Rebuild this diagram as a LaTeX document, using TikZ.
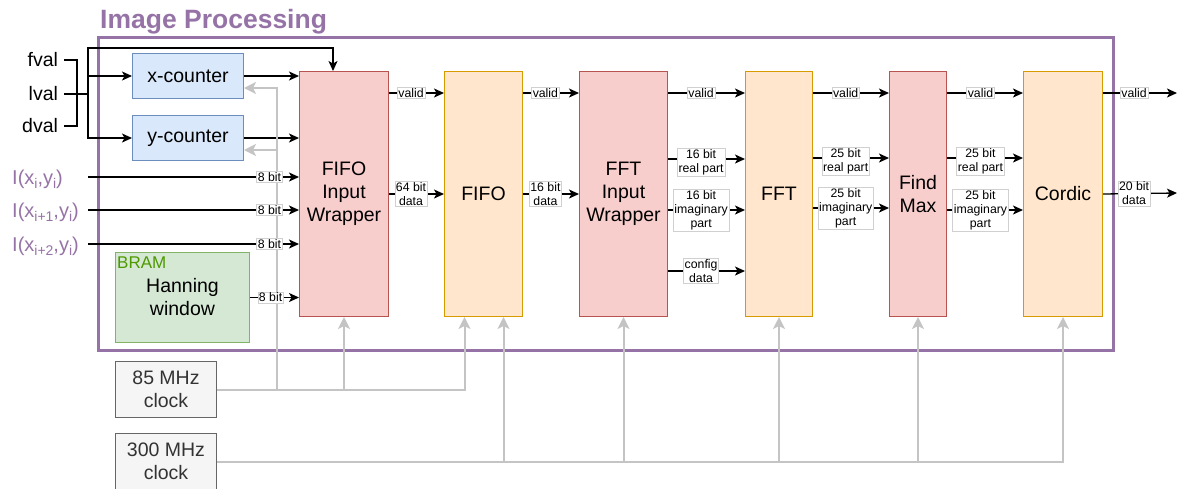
\documentclass[tikz,border=0pt]{standalone}
\usepackage{fontspec}
\setmainfont{Liberation Sans}
\usetikzlibrary{arrows.meta}
\definecolor{purp}{HTML}{9673A6}
\definecolor{redF}{HTML}{F8CECC}
\definecolor{redD}{HTML}{B85450}
\definecolor{orF}{HTML}{FFE6CC}
\definecolor{orD}{HTML}{D79B00}
\definecolor{blF}{HTML}{DAE8FC}
\definecolor{blD}{HTML}{6C8EBF}
\definecolor{grF}{HTML}{D5E8D4}
\definecolor{grD}{HTML}{82B366}
\definecolor{bramT}{HTML}{4D9900}
\definecolor{clkF}{HTML}{F5F5F5}
\definecolor{clkD}{HTML}{666666}
\definecolor{clkT}{HTML}{333333}
\definecolor{clkL}{HTML}{C4C4C4}
\definecolor{lblD}{HTML}{D0D0D0}
\newcommand{\sbs}[1]{\raisebox{-4.5pt}{\fontsize{14}{14}\selectfont #1}}
\tikzset{
  blk/.style={draw, line width=1pt, anchor=north west, inner sep=0pt, align=center,
    font=\fontsize{19.5}{23}\selectfont},
  redblk/.style={blk, fill=redF, draw=redD},
  orblk/.style={blk, fill=orF, draw=orD},
  blblk/.style={blk, fill=blF, draw=blD},
  grblk/.style={blk, fill=grF, draw=grD},
  clkblk/.style={blk, fill=clkF, draw=clkD, text=clkT},
  sig/.style={line width=1.3pt, -{Stealth[length=10pt,width=9pt,inset=2.5pt]}},
  wire/.style={line width=1.3pt},
  lbl/.style={fill=white, draw=lblD, line width=0.5pt, inner sep=1.2pt,
    font=\fontsize{12.3}{14}\selectfont, align=center, text=black},
  clk/.style={line width=2pt, draw=clkL, -{Stealth[length=12pt,width=12pt,inset=3pt]}},
  intext/.style={font=\fontsize{20}{23}\selectfont, text=purp, inner sep=0pt},
  sigtext/.style={font=\fontsize{19.5}{23}\selectfont, inner sep=0pt, outer sep=6pt, anchor=east},
}
\begin{document}
\begin{tikzpicture}[x=1pt,y=-1pt]
\useasboundingbox (0,0) rectangle (1178,488);

% title and frame
\node[anchor=base west, inner sep=0pt, text=purp, font=\fontsize{26.5}{30}\selectfont\bfseries] (title) at (100,28) {Image Processing};
\draw[purp, line width=3pt] (98,37) rectangle (1113,350);

% blocks
\node[blblk, minimum width=111pt, minimum height=45pt] (xc) at (132,53) {x-counter};
\node[blblk, minimum width=111pt, minimum height=45pt] (yc) at (132,115) {y-counter};
\node[redblk, minimum width=89pt, minimum height=245pt] (fiw) at (299,71) {FIFO\\Input\\Wrapper};
\node[orblk, minimum width=78pt, minimum height=245pt] (fifo) at (444,71) {FIFO};
\node[redblk, minimum width=88pt, minimum height=245pt] (fftiw) at (579,71) {FFT\\Input\\Wrapper};
\node[orblk, minimum width=67pt, minimum height=245pt] (fft) at (745,71) {FFT};
\node[redblk, minimum width=57pt, minimum height=245pt] (fm) at (889,71) {Find\\Max};
\node[orblk, minimum width=79pt, minimum height=245pt] (cor) at (1023,71) {Cordic};
\node[grblk, minimum width=134pt, minimum height=90pt] (han) at (115,252) {Hanning\\window};
\node[anchor=north west, inner sep=0pt, text=bramT, font=\fontsize{17}{20}\selectfont] (bram) at (117,257) {BRAM};
\node[clkblk, minimum width=101pt, minimum height=56pt] (c85) at (115,361) {85 MHz\\clock};
\node[clkblk, minimum width=101pt, minimum height=56pt] (c300) at (115,433) {300 MHz\\clock};

% left inputs
\node[sigtext] (fval) at (64,60) {fval};
\node[sigtext] (lval) at (64,94) {lval};
\node[sigtext] (dval) at (64,126) {dval};
\coordinate (bk) at (77,0);
\coordinate (sp) at (88,94);
\coordinate (ftop) at (333,48);
\draw[wire] (fval.east) -- (fval.east -| bk) -- (dval.east -| bk) -- (dval.east);
\draw[wire] (lval.east) -- (sp);
\draw[sig] (sp) |- (ftop) -- (ftop |- fiw.north);
\draw[sig] (sp) |- (xc.west);
\draw[sig] (sp) |- (yc.west);
\draw[sig] (xc.east) -- (xc.east -| fiw.west);
\draw[sig] (yc.east) -- (yc.east -| fiw.west);

\node[intext, anchor=base west] (i1) at (12,184) {I(x\sbs{i},y\sbs{i})};
\node[intext, anchor=base west] (i2) at (12,217) {I(x\sbs{i+1},y\sbs{i})};
\node[intext, anchor=base west] (i3) at (12,251) {I(x\sbs{i+2},y\sbs{i})};
\coordinate (i1s) at (88,177);
\coordinate (i2s) at (88,210);
\coordinate (i3s) at (88,244);

% clock lines
\coordinate (gx) at (277,0);
\coordinate (ff85) at ([xshift=-19pt]fifo.south);
\coordinate (ff300) at ([xshift=20pt]fifo.south);
\draw[clk] (c85.east) -| (ff85);
\draw[clk] (c85.east -| fiw.south) -- (fiw.south);
\draw[clk] (c85.east -| gx) |- ([yshift=-12pt]xc.east);
\draw[clk] ([yshift=-12pt]yc.east -| gx) -- ([yshift=-12pt]yc.east);
\draw[clk] (c300.east) -| (cor.south);
\draw[clk] (c300.east -| ff300) -- (ff300);
\draw[clk] (c300.east -| fftiw.south) -- (fftiw.south);
\draw[clk] (c300.east -| fft.south) -- (fft.south);
\draw[clk] (c300.east -| fm.south) -- (fm.south);

\draw[sig] (i1s) -- (i1s -| fiw.west) node[lbl, pos=0.86] {8 bit};
\draw[sig] (i2s) -- (i2s -| fiw.west) node[lbl, pos=0.86] {8 bit};
\draw[sig] (i3s) -- (i3s -| fiw.west) node[lbl, pos=0.86] {8 bit};
\draw[sig] (han.east) -- (han.east -| fiw.west) node[lbl, pos=0.42] {8 bit};

% pipeline rows
\coordinate (rv) at (0,93);
\coordinate (rre) at (0,159);
\coordinate (rim) at (0,210);
\coordinate (rcf) at (0,271);
\coordinate (rre2) at (0,158);
\coordinate (rim2) at (0,208);
\coordinate (outv) at (1177,93);
\coordinate (outd) at (1177,193);

\draw[sig] (fiw.east |- rv) -- (fifo.west |- rv) node[lbl, pos=0.4] {valid};
\draw[sig] (fiw.east) -- (fifo.west) node[lbl, pos=0.4] {64 bit\\data};
\draw[sig] (fifo.east |- rv) -- (fftiw.west |- rv) node[lbl, pos=0.4] {valid};
\draw[sig] (fifo.east) -- (fftiw.west) node[lbl, pos=0.4] {16 bit\\data};

\draw[sig] (fftiw.east |- rv) -- (fft.west |- rv) node[lbl, pos=0.43] {valid};
\draw[sig] (fftiw.east |- rre) -- (fft.west |- rre) node[lbl, pos=0.43, yshift=-3pt] {16 bit\\real part};
\draw[sig] (fftiw.east |- rim) -- (fft.west |- rim) node[lbl, pos=0.43] {16 bit\\imaginary\\part};
\draw[sig] (fftiw.east |- rcf) -- (fft.west |- rcf) node[lbl, pos=0.43] {config\\data};

\draw[sig] (fft.east |- rv) -- (fm.west |- rv) node[lbl, pos=0.43] {valid};
\draw[sig] (fft.east |- rre2) -- (fm.west |- rre2) node[lbl, pos=0.43, yshift=-3pt] {25 bit\\real part};
\draw[sig] (fft.east |- rim2) -- (fm.west |- rim2) node[lbl, pos=0.43] {25 bit\\imaginary\\part};

\draw[sig] (fm.east |- rv) -- (cor.west |- rv) node[lbl, pos=0.44] {valid};
\draw[sig] (fm.east |- rre2) -- (cor.west |- rre2) node[lbl, pos=0.44, yshift=-3pt] {25 bit\\real part};
\draw[sig] (fm.east |- rim) -- (cor.west |- rim) node[lbl, pos=0.44] {25 bit\\imaginary\\part};

\draw[sig] (cor.east |- rv) -- (outv) node[lbl, pos=0.42] {valid};
\draw[sig] (cor.east) -- (outd) node[lbl, pos=0.42] {20 bit\\data};
\end{tikzpicture}
\end{document}
